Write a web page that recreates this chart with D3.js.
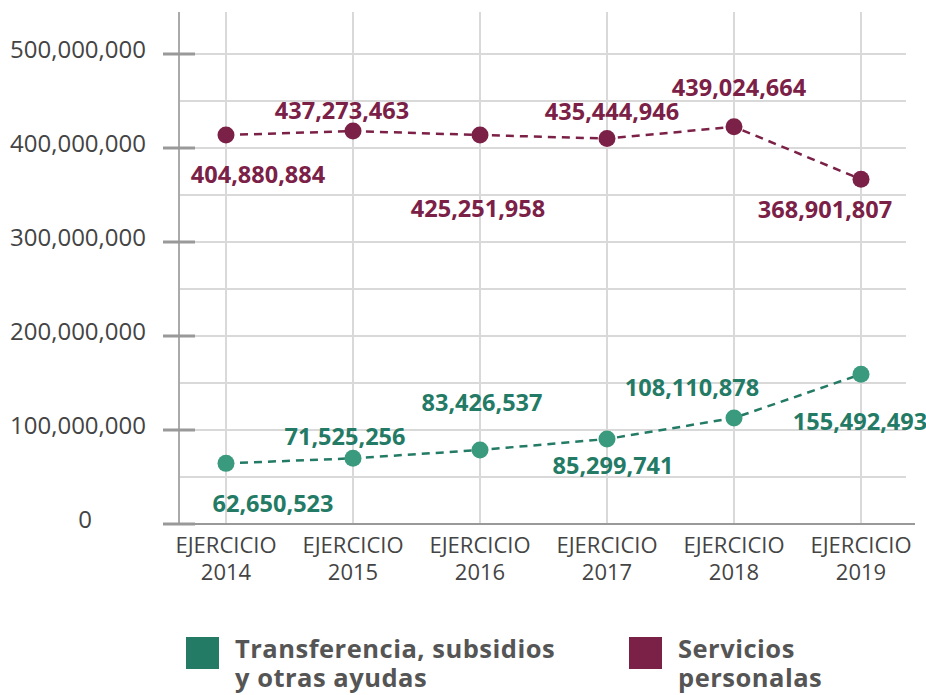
<!DOCTYPE html>
<html>
<head>
<meta charset="utf-8">
<script src="https://cdn.jsdelivr.net/npm/d3@7"></script>
<style>
  html, body { margin: 0; padding: 0; background: #fff; }
  svg { display: block; font-family: 'Open Sans', 'Noto Sans', sans-serif; }
</style>
</head>
<body>
<div id="chart"></div>
<script>
// Years on the x axis
const years = ['2014', '2015', '2016', '2017', '2018', '2019'];
const yTicks = [0, 100000000, 200000000, 300000000, 400000000, 500000000];

// Amounts printed as labels
const servLabels = [404880884, 437273463, 425251958, 435444946, 439024664, 368901807];
const transLabels = [62650523, 71525256, 83426537, 85299741, 108110878, 155492493];

// Heights the dots are actually drawn at
const servPlot = [413800000, 418000000, 413800000, 410000000, 422600000, 366700000];
const transPlot = [64500000, 69900000, 78700000, 90400000, 112800000, 159300000];

const legendItems = [
  { lines: ['Transferencia, subsidios', 'y otras ayudas'], color: '#237a65' },
  { lines: ['Servicios', 'personalas'], color: '#7b2046' }
];

(function () {
  const W = 926, H = 695;
  const svg = d3.select('#chart').append('svg')
    .attr('width', W).attr('height', H)
    .attr('viewBox', `0 0 ${W} ${H}`);

  const x = d3.scalePoint().domain(years).range([226, 861]);
  const y = d3.scaleLinear().domain([0, 500000000]).range([524, 54]);
  const fmt = d3.format(',');

  // grid — horizontal every 50M, vertical at each year
  const grid = svg.append('g');
  grid.selectAll('.hg')
    .data(d3.range(50000000, 500000001, 50000000))
    .enter().append('line')
    .attr('x1', 179).attr('x2', 906)
    .attr('y1', d => y(d)).attr('y2', d => y(d))
    .attr('stroke', '#d9d9d9').attr('stroke-width', 2);
  grid.selectAll('.vg')
    .data(years)
    .enter().append('line')
    .attr('x1', d => x(d)).attr('x2', d => x(d))
    .attr('y1', 12).attr('y2', y(0))
    .attr('stroke', '#d9d9d9').attr('stroke-width', 2);

  // axis lines
  svg.append('line')
    .attr('x1', 179).attr('x2', 179).attr('y1', 12).attr('y2', y(0))
    .attr('stroke', '#aaa').attr('stroke-width', 2);
  svg.append('line')
    .attr('x1', 163).attr('x2', 915).attr('y1', y(0)).attr('y2', y(0))
    .attr('stroke', '#999').attr('stroke-width', 2);

  // y ticks + labels
  svg.selectAll('.yt')
    .data(yTicks)
    .enter().append('line')
    .attr('x1', 163).attr('x2', 195)
    .attr('y1', d => y(d)).attr('y2', d => y(d))
    .attr('stroke', '#999').attr('stroke-width', 3);
  svg.selectAll('.yl')
    .data(yTicks)
    .enter().append('text')
    .attr('x', d => d === 0 ? 85 : 78).attr('y', d => y(d) - 4)
    .attr('dy', '0.35em')
    .attr('text-anchor', 'middle')
    .style('font-size', '24px')
    .style('fill', '#444')
    .text(d => fmt(d));

  // x labels (two lines)
  const xl = svg.selectAll('.xl')
    .data(years)
    .enter().append('text')
    .attr('text-anchor', 'middle')
    .style('font-size', '22px')
    .style('fill', '#444');
  xl.append('tspan').attr('x', d => x(d)).attr('y', 553).text('EJERCICIO');
  xl.append('tspan').attr('x', d => x(d)).attr('y', 580).text(d => d);

  // series
  const series = [
    { plot: servPlot, labels: servLabels, dot: '#7b2046', text: '#7b2046',
      off: [[32, 40], [-11, -20], [-2, 74], [5, -27], [5, -39], [-36, 30]] },
    { plot: transPlot, labels: transLabels, dot: '#3a9a7e', text: '#237a65',
      off: [[47, 40], [-8, -22], [2, -47], [6, 27], [-42, -30], [-1, 48]] }
  ];

  const line = d3.line()
    .x((d, i) => x(years[i]))
    .y(d => y(d));

  series.forEach(s => {
    svg.append('path')
      .attr('d', line(s.plot))
      .attr('fill', 'none')
      .attr('stroke', s.text)
      .attr('stroke-width', 2.5)
      .attr('stroke-dasharray', '8,6');

    svg.selectAll(null)
      .data(s.plot)
      .enter().append('circle')
      .attr('cx', (d, i) => x(years[i]))
      .attr('cy', d => y(d))
      .attr('r', 8.5)
      .attr('fill', s.dot);

    svg.selectAll(null)
      .data(s.labels)
      .enter().append('text')
      .attr('x', (d, i) => x(years[i]) + s.off[i][0])
      .attr('y', (d, i) => y(s.plot[i]) + s.off[i][1])
      .attr('dy', '0.35em')
      .attr('text-anchor', 'middle')
      .style('font-size', '23.5px')
      .style('font-weight', 'bold')
      .style('fill', s.text)
      .text(d => fmt(d));
  });

  // legend
  const lg = svg.selectAll('.lg')
    .data(legendItems)
    .enter().append('g')
    .attr('transform', (d, i) => `translate(${i === 0 ? 186 : 629},637)`);
  lg.append('rect')
    .attr('width', 33).attr('height', 32)
    .attr('fill', d => d.color);
  lg.selectAll('text')
    .data(d => d.lines)
    .enter().append('text')
    .attr('x', 49)
    .attr('y', (d, i) => 21 + i * 29)
    .style('font-size', '25.5px')
    .style('font-weight', 'bold')
    .style('letter-spacing', '0.5px')
    .style('fill', '#555')
    .text(d => d);
})();
</script>
</body>
</html>
